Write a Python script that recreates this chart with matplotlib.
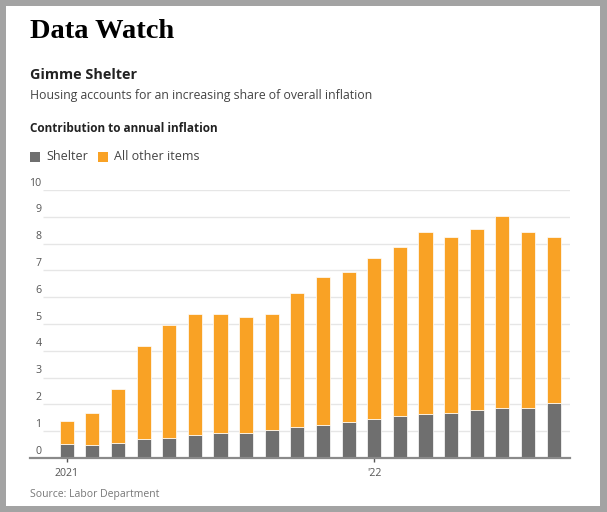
import matplotlib.pyplot as plt
import matplotlib.transforms as mtransforms
from matplotlib.patches import Rectangle
import numpy as np

# monthly contribution to annual CPI inflation, Jan 2021 - Aug 2022
months = ['Jan', 'Feb', 'Mar', 'Apr', 'May', 'Jun', 'Jul', 'Aug', 'Sep', 'Oct',
          'Nov', 'Dec', 'Jan', 'Feb', 'Mar', 'Apr', 'May', 'Jun', 'Jul', 'Aug']
shelter = [0.52, 0.47, 0.55, 0.72, 0.76, 0.87, 0.93, 0.93, 1.03, 1.17,
           1.24, 1.36, 1.47, 1.55, 1.65, 1.68, 1.79, 1.85, 1.88, 2.04]
total = [1.37, 1.67, 2.57, 4.17, 4.95, 5.37, 5.37, 5.27, 5.37, 6.14,
         6.77, 6.95, 7.45, 7.86, 8.45, 8.25, 8.54, 9.03, 8.45, 8.25]
other = [t - s for t, s in zip(total, shelter)]
year_ticks = [0, 12]
year_labels = ['2021', "'22"]
y_ticks = list(range(0, 11))

GRAY = '#6f6f6f'
ORANGE = '#f9a225'
W, H = 607, 512

fig = plt.figure(figsize=(W / 100, H / 100), dpi=100)
fig.patch.set_facecolor('#a3a3a3')
fig.patches.append(Rectangle((6 / W, 1 - 506 / H), 594 / W, 500 / H,
                             transform=fig.transFigure, facecolor='white',
                             edgecolor='none', zorder=-5))

def px(x, y):
    return x / W, 1 - y / H

sans = ['Open Sans', 'DejaVu Sans']
fig.text(*px(30, 32), 'Data Watch', family='Liberation Serif', weight='bold',
         fontsize=20.5, va='center', color='black')
fig.text(*px(30, 75), 'Gimme Shelter', family=sans, weight='bold',
         fontsize=10.4, va='center', color='#222222')
fig.text(*px(30, 95), 'Housing accounts for an increasing share of overall inflation',
         family=sans, fontsize=8.8, va='center', color='#444444')
fig.text(*px(30, 128), 'Contribution to annual inflation', family=sans,
         weight='bold', fontsize=8.5, va='center', color='#222222')

# legend
fig.patches.append(Rectangle(px(30, 162), 10 / W, 10 / H, transform=fig.transFigure,
                             facecolor=GRAY, edgecolor='none'))
fig.text(*px(46, 157), 'Shelter', family=sans, fontsize=9, va='center', color='#444444')
fig.patches.append(Rectangle(px(98, 162), 10 / W, 10 / H, transform=fig.transFigure,
                             facecolor=ORANGE, edgecolor='none'))
fig.text(*px(114, 157), 'All other items', family=sans, fontsize=9, va='center',
         color='#444444')

fig.text(*px(30, 494), 'Source: Labor Department', family=sans, fontsize=7.5,
         va='center', color='#777777')

# plot area: 30..570 px wide, 0 at y=458, 10 at y=190
ax = fig.add_axes([30 / W, 1 - 458 / H, 540 / W, 268 / H])
ax.set_facecolor('none')
x = np.arange(len(months))
step = 25.63
ax.set_xlim((30 - 66.7) / step, (570 - 66.7) / step)
ax.set_ylim(0, 10)

ax.bar(x, shelter, width=0.55, color=GRAY, edgecolor='white', linewidth=0.5, zorder=3)
ax.bar(x, other, bottom=shelter, width=0.55, color=ORANGE, edgecolor='white',
       linewidth=0.5, zorder=3)

grid_start = (43 - 66.7) / step
ax.hlines(y_ticks[1:], grid_start, ax.get_xlim()[1], color='#e6e6e6', lw=1, zorder=1)
ax.axhline(0, color='#8a8a8a', lw=1.6, zorder=4, clip_on=False)

for s in ax.spines.values():
    s.set_visible(False)
ax.set_yticks([])
lab_tr = mtransforms.offset_copy(ax.transData, fig=fig, x=-1, y=1, units='points')
for v in y_ticks:
    ax.text(grid_start, v, str(v), transform=lab_tr, ha='right', va='bottom',
            fontsize=7.7, family=sans, color='#555555')

ax.set_xticks(year_ticks)
ax.set_xticklabels(year_labels, family=sans, fontsize=7.7, color='#555555')
ax.tick_params(axis='x', length=3, width=1, color='#555555', pad=4)

fig.savefig('out.png', dpi=100, facecolor=fig.get_facecolor())
